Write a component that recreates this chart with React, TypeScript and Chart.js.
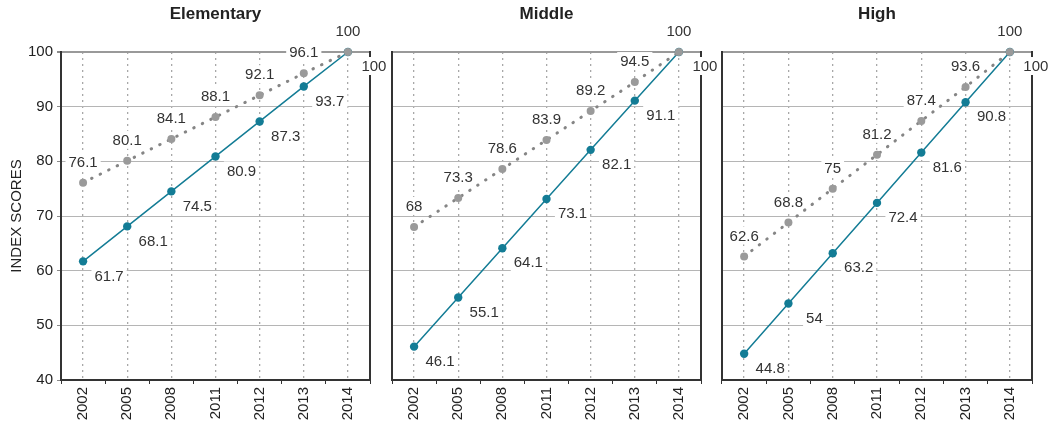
import React, { useEffect, useRef } from "react";
import { Chart, registerables } from "chart.js";

Chart.register(...registerables);

const years = ["2002", "2005", "2008", "2011", "2012", "2013", "2014"];
const panelTitles = ["Elementary", "Middle", "High"];
const yAxisTitle = "INDEX SCORES";
const yMin = 40;
const yMax = 100;
const yStep = 10;

const elementaryTeal = [61.7, 68.1, 74.5, 80.9, 87.3, 93.7, 100];
const elementaryGray = [76.1, 80.1, 84.1, 88.1, 92.1, 96.1, 100];
const middleTeal = [46.1, 55.1, 64.1, 73.1, 82.1, 91.1, 100];
const middleGray = [68, 73.3, 78.6, 83.9, 89.2, 94.5, 100];
const highTeal = [44.8, 54, 63.2, 72.4, 81.6, 90.8, 100];
const highGray = [62.6, 68.8, 75, 81.2, 87.4, 93.6, 100];

const tealSeries = [elementaryTeal, middleTeal, highTeal];
const graySeries = [elementaryGray, middleGray, highGray];

const FONT = '"Liberation Sans", Arial, Helvetica, sans-serif';
const TEAL = "#137c95";
const GRAY_PT = "#9a9a9a";
const GRAY_LINE = "#858585";
const DARK = "#333333";

const panels = [
  { left: 0, width: 392, padLeft: 0, padRight: 22, yWidth: 61, showY: true },
  { left: 382, width: 340, padLeft: 10, padRight: 21, yWidth: 0, showY: false },
  { left: 712, width: 345, padLeft: 10, padRight: 25, yWidth: 0, showY: false },
];

const valueLabels = {
  id: "valueLabels",
  beforeDatasetsDraw(chart: any) {
    const ctx = chart.ctx;
    ctx.save();
    ctx.font = `15px ${FONT}`;
    ctx.textAlign = "center";
    ctx.textBaseline = "middle";
    chart.data.datasets.forEach((ds: any, di: number) => {
      const meta = chart.getDatasetMeta(di);
      const off = ds.labelOffset || { dx: 0, dy: 0 };
      meta.data.forEach((pt: any, i: number) => {
        const text = String(ds.data[i]);
        const x = pt.x + off.dx;
        const y = pt.y + off.dy;
        const w = ctx.measureText(text).width + 6;
        ctx.fillStyle = "#ffffff";
        ctx.fillRect(x - w / 2, y - 9, w, 18);
        ctx.fillStyle = "#333333";
        ctx.fillText(text, x, y + 1);
      });
    });
    ctx.restore();
  },
};

function Panel({ idx }: { idx: number }) {
  const ref = useRef<HTMLCanvasElement>(null);
  const cfg = panels[idx];
  useEffect(() => {
    if (!ref.current) return;
    const chart = new Chart(ref.current, {
      type: "line",
      data: {
        labels: years,
        datasets: [
          {
            data: graySeries[idx],
            borderColor: GRAY_LINE,
            borderWidth: 3,
            borderDash: [0.5, 9],
            borderCapStyle: "round",
            pointRadius: 4,
            pointBackgroundColor: GRAY_PT,
            pointBorderWidth: 0,
            clip: false,
            labelOffset: { dx: 0, dy: -21 },
          } as any,
          {
            data: tealSeries[idx],
            borderColor: TEAL,
            borderWidth: 1.5,
            pointRadius: 4.2,
            pointBackgroundColor: TEAL,
            pointBorderWidth: 0,
            clip: false,
            labelOffset: { dx: 26, dy: 14 },
          } as any,
        ],
      },
      options: {
        responsive: false,
        animation: false,
        layout: { padding: { left: cfg.padLeft, right: cfg.padRight, top: 0, bottom: 0 } },
        plugins: {
          legend: { display: false },
          tooltip: { enabled: false },
          title: {
            display: true,
            text: panelTitles[idx],
            fullSize: false,
            color: "#222222",
            font: { family: FONT, size: 17, weight: "bold" },
            padding: { top: 4, bottom: 27.6 },
          },
        },
        scales: {
          x: {
            type: "category",
            offset: true,
            weight: 1,
            grid: { offset: false, color: "#a8a8a8", lineWidth: 1.3, drawTicks: false },
            border: { display: false, dash: [2, 4] },
            ticks: {
              color: "#222222",
              font: { family: FONT, size: 15 },
              minRotation: 90,
              maxRotation: 90,
              padding: 3,
              autoSkip: false,
            },
            afterFit: (s: any) => {
              s.height = 49;
            },
          },
          x2: {
            type: "category",
            position: "bottom",
            offset: true,
            weight: 0,
            grid: {
              offset: true,
              drawOnChartArea: false,
              drawTicks: true,
              tickLength: 4,
              tickColor: DARK,
              tickWidth: 1,
            },
            border: { display: true, color: DARK, width: 2 },
            ticks: { display: false },
            afterFit: (s: any) => {
              s.height = 4;
            },
          },
          y: {
            min: yMin,
            max: yMax,
            ticks: {
              display: cfg.showY,
              stepSize: yStep,
              color: "#222222",
              font: { family: FONT, size: 15 },
              padding: 4,
            },
            grid: {
              color: (c: any) => (c.tick && c.tick.value === yMax ? "#999999" : "#b5b5b5"),
              lineWidth: (c: any) => (c.tick && c.tick.value === yMax ? 2 : 1),
              drawTicks: cfg.showY,
              tickLength: 4,
              tickColor: "#8a8a8a",
            },
            border: { display: true, color: DARK, width: 2 },
            title: {
              display: cfg.showY,
              text: yAxisTitle,
              color: "#222222",
              font: { family: FONT, size: 15 },
              padding: { top: 8, bottom: 0 },
            },
            afterFit: (s: any) => {
              s.width = cfg.yWidth;
            },
          },
          yR: {
            position: "right",
            min: yMin,
            max: yMax,
            ticks: { display: false },
            grid: { drawOnChartArea: false, drawTicks: false },
            border: { display: true, color: DARK, width: 2 },
            afterFit: (s: any) => {
              s.width = 0;
            },
          },
        },
      } as any,
      plugins: [valueLabels],
    });
    return () => chart.destroy();
  }, [idx]);
  return (
    <canvas
      ref={ref}
      width={cfg.width}
      height={433}
      style={{ position: "absolute", left: cfg.left, top: 0, width: cfg.width, height: 433 }}
    />
  );
}

export default function App() {
  return (
    <div style={{ position: "absolute", left: 0, top: 0, width: 1057, height: 433, background: "#ffffff" }}>
      {panels.map((_, i) => (
        <Panel key={i} idx={i} />
      ))}
    </div>
  );
}
